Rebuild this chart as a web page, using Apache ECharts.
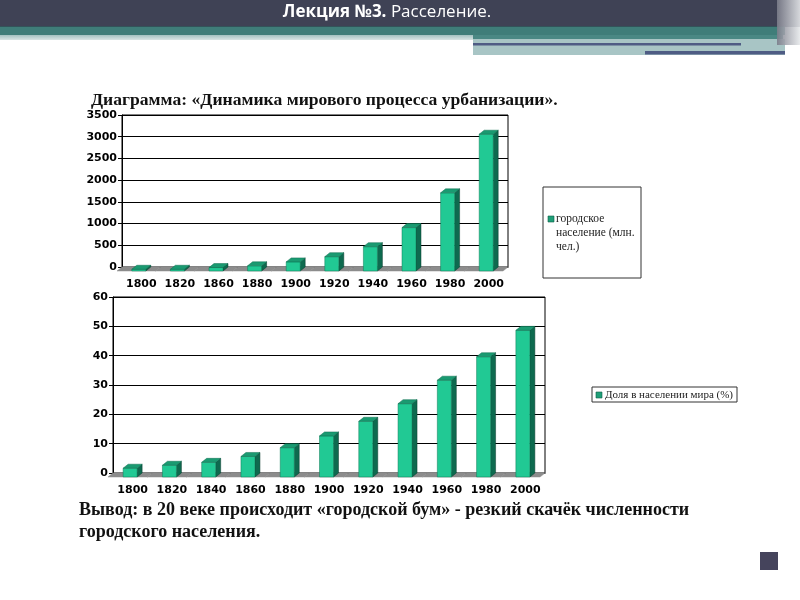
<!DOCTYPE html>
<html>
<head>
<meta charset="utf-8">
<script src="https://cdn.jsdelivr.net/npm/echarts@6/dist/echarts.min.js"></script>
<style>
html,body{margin:0;padding:0;background:#fff;}
#chart{width:800px;height:600px;}
</style>
</head>
<body>
<div id="chart"></div>
<script>
// ---- Data ----
const yearsTop = ['1800','1820','1860','1880','1900','1920','1940','1960','1980','2000'];
const urbanPopulation = [40, 40, 80, 120, 210, 330, 560, 1000, 1800, 3150];
const yearsBottom = ['1800','1820','1840','1860','1880','1900','1920','1940','1960','1980','2000'];
const urbanShare = [3, 4, 5, 7, 10, 14, 19, 25, 33, 41, 50];

const headerBold = 'Лекция №3.';
const headerRegular = ' Расселение.';
const chartTitle = 'Диаграмма: «Динамика мирового процесса урбанизации».';
const legendTop = ['городское', 'население (млн.', 'чел.)'];
const legendBottom = 'Доля в населении мира (%)';
const conclusion1 = 'Вывод: в 20 веке происходит «городской бум» - резкий скачёк численности';
const conclusion2 = 'городского населения.';

// ---- Rendering ----
const FRONT = '#21c994', SIDE = '#0e6a4f', TOP = '#1a9a71', FLOOR = '#8c8c8c';
const DX = 5, DY = 4, FW = 14;

function barRenderer(params, api) {
  const idx = api.value(0), val = api.value(1);
  const t = api.coord([idx, val]);
  const b = api.coord([idx, 0]);
  const c = t[0];
  const fl = c - FW / 2 - DX / 2, fr = fl + FW;
  const vy = t[1], y0 = b[1];
  return {
    type: 'group',
    children: [
      { type: 'polygon', shape: { points: [[fr, vy + DY], [fr + DX, vy], [fr + DX, y0], [fr, y0 + DY]] },
        style: { fill: SIDE, stroke: '#0a3d2e', lineWidth: 0.5 } },
      { type: 'rect', shape: { x: fl, y: vy + DY, width: FW, height: y0 - vy },
        style: { fill: FRONT, stroke: '#0f7a57', lineWidth: 0.5 } },
      { type: 'polygon', shape: { points: [[fl, vy + DY], [fr, vy + DY], [fr + DX, vy], [fl + DX, vy]] },
        style: { fill: TOP, stroke: '#0f6e50', lineWidth: 0.5 } }
    ]
  };
}
function floorRenderer(params, api) {
  const idx = api.value(0);
  const b = api.coord([idx, 0]);
  const hw = api.size([1, 0])[0] / 2;
  const c = b[0], y0 = b[1];
  return {
    type: 'polygon',
    shape: { points: [[c - hw, y0], [c + hw, y0], [c + hw - DX, y0 + DY], [c - hw - DX, y0 + DY]] },
    style: { fill: FLOOR, stroke: FLOOR, lineWidth: 0.5 }
  };
}

const axisFont = { color: '#000', fontFamily: 'DejaVu Sans', fontWeight: 'bold', fontSize: 11 };
const plain = v => String(v);

const chart = echarts.init(document.getElementById('chart'), null, { renderer: 'canvas' });
chart.setOption({
  animation: false,
  backgroundColor: '#fff',
  grid: [
    { left: 122, top: 115, width: 386, height: 152, show: true, borderColor: '#000', borderWidth: 1, backgroundColor: '#fff' },
    { left: 113, top: 297, width: 432, height: 176, show: true, borderColor: '#000', borderWidth: 1, backgroundColor: '#fff' }
  ],
  xAxis: [
    { type: 'category', gridIndex: 0, data: yearsTop, offset: DY,
      axisLine: { lineStyle: { color: '#000' } }, axisTick: { lineStyle: { color: '#000' }, length: 4 },
      axisLabel: Object.assign({ margin: 8, interval: 0 }, axisFont) },
    { type: 'category', gridIndex: 1, data: yearsBottom, offset: DY,
      axisLine: { lineStyle: { color: '#000' } }, axisTick: { lineStyle: { color: '#000' }, length: 4 },
      axisLabel: Object.assign({ margin: 8, interval: 0 }, axisFont) }
  ],
  yAxis: [
    { type: 'value', gridIndex: 0, min: 0, max: 3500, interval: 500,
      axisLine: { show: true, lineStyle: { color: '#000' } }, axisTick: { show: true, length: 4, lineStyle: { color: '#000' } },
      splitLine: { lineStyle: { color: '#000', width: 1 } },
      axisLabel: Object.assign({ margin: 5, formatter: plain }, axisFont) },
    { type: 'value', gridIndex: 1, min: 0, max: 60, interval: 10,
      axisLine: { show: true, lineStyle: { color: '#000' } }, axisTick: { show: true, length: 4, lineStyle: { color: '#000' } },
      splitLine: { lineStyle: { color: '#000', width: 1 } },
      axisLabel: Object.assign({ margin: 5, formatter: plain }, axisFont) }
  ],
  series: [
    { type: 'custom', name: 'floor1', xAxisIndex: 0, yAxisIndex: 0, z: 3, renderItem: floorRenderer,
      data: urbanPopulation.map((v, i) => [i, v]) },
    { type: 'custom', name: legendTop.join(' '), xAxisIndex: 0, yAxisIndex: 0, z: 4, renderItem: barRenderer,
      data: urbanPopulation.map((v, i) => [i, v]) },
    { type: 'custom', name: 'floor2', xAxisIndex: 1, yAxisIndex: 1, z: 3, renderItem: floorRenderer,
      data: urbanShare.map((v, i) => [i, v]) },
    { type: 'custom', name: legendBottom, xAxisIndex: 1, yAxisIndex: 1, z: 4, renderItem: barRenderer,
      data: urbanShare.map((v, i) => [i, v]) }
  ],
  graphic: [
    // header
    { type: 'rect', shape: { x: 0, y: 0, width: 800, height: 27 }, style: { fill: '#3f4255' }, z: 1 },
    { type: 'rect', shape: { x: 0, y: 26, width: 785, height: 1 }, style: { fill: '#33535a' }, z: 1 },
    { type: 'rect', shape: { x: 0, y: 27, width: 785, height: 8 }, style: { fill: '#3f7d79' }, z: 1 },
    { type: 'rect', shape: { x: 0, y: 35, width: 473, height: 5 },
      style: { fill: new echarts.graphic.LinearGradient(0, 0, 0, 1, [{ offset: 0, color: '#a3c1c0' }, { offset: 1, color: '#d9e5e5' }]) }, z: 1 },
    { type: 'rect', shape: { x: 473, y: 35, width: 310, height: 4 }, style: { fill: '#4a8884' }, z: 1 },
    { type: 'rect', shape: { x: 473, y: 39, width: 312, height: 16 }, style: { fill: '#a8c5c5' }, z: 1 },
    { type: 'rect', shape: { x: 473, y: 43, width: 268, height: 2.5 }, style: { fill: '#4f5c84' }, z: 2 },
    { type: 'rect', shape: { x: 645, y: 51, width: 140, height: 3.5 }, style: { fill: '#4f5c84' }, z: 2 },
    { type: 'rect', shape: { x: 777, y: 0, width: 23, height: 45 },
      style: { fill: new echarts.graphic.LinearGradient(0, 0, 1, 0, [{ offset: 0, color: '#7b7d8a' }, { offset: 1, color: '#e6e8ea' }]), opacity: 0.9 }, z: 2 },
    { type: 'text', x: 387, y: 12, z: 3,
      style: { text: '{b|' + headerBold + '}{r|' + headerRegular + '}', align: 'center', verticalAlign: 'middle',
        rich: { b: { fill: '#fff', fontFamily: 'Open Sans', fontWeight: 'bold', fontSize: 17 },
                r: { fill: '#fff', fontFamily: 'Open Sans', fontWeight: 'normal', fontSize: 17 } } } },
    // title
    { type: 'text', x: 91, y: 100, z: 3,
      style: { text: chartTitle, fill: '#111', fontFamily: 'Liberation Serif', fontWeight: 'bold', fontSize: 17.6, verticalAlign: 'middle' } },
    // legend 1
    { type: 'rect', shape: { x: 543, y: 187, width: 98, height: 91 }, style: { fill: '#fff', stroke: '#333', lineWidth: 1 }, z: 3 },
    { type: 'rect', shape: { x: 548, y: 216, width: 6, height: 6 }, style: { fill: '#1f9f78', stroke: '#0d5e46', lineWidth: 0.6 }, z: 4 },
    { type: 'text', x: 556, y: 212, z: 4,
      style: { text: legendTop.join('\n'), fill: '#222', fontFamily: 'Liberation Serif', fontSize: 11.5, lineHeight: 14, verticalAlign: 'top' } },
    // legend 2
    { type: 'rect', shape: { x: 592, y: 387, width: 145, height: 15 }, style: { fill: '#fff', stroke: '#333', lineWidth: 1 }, z: 3 },
    { type: 'rect', shape: { x: 596, y: 392, width: 6, height: 6 }, style: { fill: '#1f9f78', stroke: '#0d5e46', lineWidth: 0.6 }, z: 4 },
    { type: 'text', x: 605, y: 395, z: 4,
      style: { text: legendBottom, fill: '#222', fontFamily: 'Liberation Serif', fontSize: 11, verticalAlign: 'middle' } },
    // conclusion
    { type: 'text', x: 79, y: 510, z: 3,
      style: { text: conclusion1, fill: '#111', fontFamily: 'Liberation Serif', fontWeight: 'bold', fontSize: 18, verticalAlign: 'middle' } },
    { type: 'text', x: 79, y: 532, z: 3,
      style: { text: conclusion2, fill: '#111', fontFamily: 'Liberation Serif', fontWeight: 'bold', fontSize: 18, verticalAlign: 'middle' } },
    // corner square
    { type: 'rect', shape: { x: 760, y: 552, width: 18, height: 18 }, style: { fill: '#45445c' }, z: 3 }
  ]
});
</script>
</body>
</html>
